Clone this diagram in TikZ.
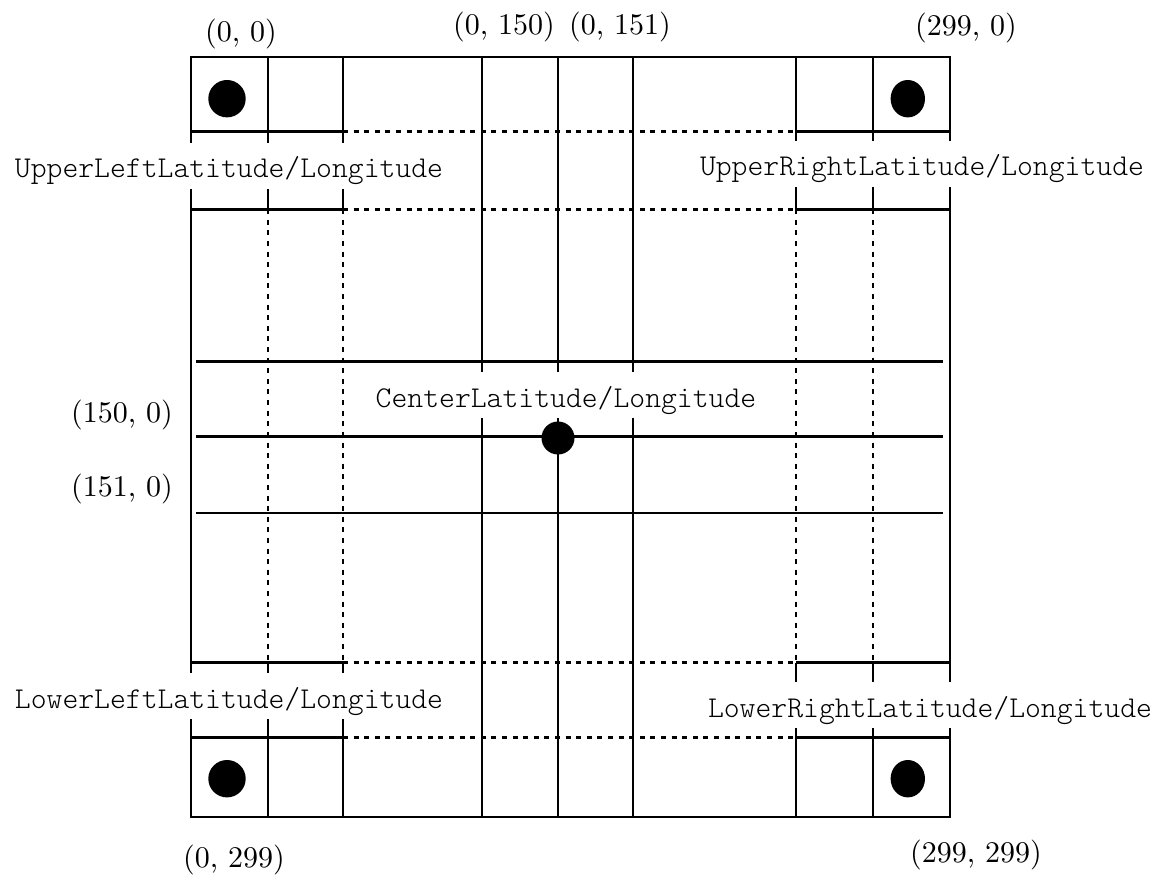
\documentclass[tikz,border=0pt]{standalone}
\usepackage{fontspec}
\newfontfamily\cmnum{lmroman10-regular.otf}
\newfontfamily\cmmono{lmmonolt10-regular.otf}
\begin{document}
\begin{tikzpicture}[x=1pt,y=-1pt,
  ln/.style={line width=2.9pt},
  dl/.style={line width=2.7pt, dash pattern=on 5pt off 5.6pt},
  lbl/.style={font=\fontsize{30.2}{36}\cmmono, fill=white, anchor=base,
              inner xsep=2pt, inner ysep=2pt, text height=33pt, text depth=9pt},
  num/.style={font=\fontsize{30}{36}\cmnum, anchor=base, inner sep=0pt},
  spot/.style={fill=black}]
\useasboundingbox (0,0) rectangle (1160,877);
% outer frame
\draw[ln] (191,57) rectangle (950,817);
% vertical solid long lines
\foreach \x in {482,558,633} \draw[ln] (\x,57) -- (\x,817);
% corner column lines
\foreach \x in {268,343,796,873} {
  \draw[ln] (\x,57) -- (\x,209.3);
  \draw[dl] (\x,209.3) -- (\x,662.7);
  \draw[ln] (\x,662.7) -- (\x,817);
}
% corner row lines
\foreach \y in {131.7,209.3,662.7,737.7} {
  \draw[ln] (191,\y) -- (343,\y);
  \draw[dl] (343,\y) -- (796,\y);
  \draw[ln] (796,\y) -- (950,\y);
}
% central horizontal lines
\foreach \y in {361.7,436.5,513} \draw[ln] (196,\y) -- (943,\y);
% dots
\fill[spot] (227,98.7) circle (18.7);
\fill[spot] (907.8,98.7) ellipse (17.2 and 18.7);
\fill[spot] (227,778.7) circle (18.7);
\fill[spot] (907.8,778.7) ellipse (17.2 and 18.7);
\fill[spot] (558,438) circle (16.5);
% labels
\node[lbl] (ul) at (229,178) {UpperLeftLatitude/Longitude};
\node[lbl] (ur) at (922,176) {UpperRightLatitude/Longitude};
\node[lbl] (ce) at (566,407) {CenterLatitude/Longitude};
\node[lbl] (ll) at (229,708) {LowerLeftLatitude/Longitude};
\node[lbl] (lr) at (930,717) {LowerRightLatitude/Longitude};
% coordinates
\node[num] (c00) at (241,41.5) {(0, 0)};
\node[num] (c0150) at (504,35) {(0, 150)};
\node[num] (c0151) at (620,35) {(0, 151)};
\node[num] (c2990) at (966,36) {(299, 0)};
\node[num] (c1500) at (122,423) {(150, 0)};
\node[num] (c1510) at (122,496.7) {(151, 0)};
\node[num] (c0299) at (234,867) {(0, 299)};
\node[num] (c299299) at (976,862) {(299, 299)};
\end{tikzpicture}
\end{document}
